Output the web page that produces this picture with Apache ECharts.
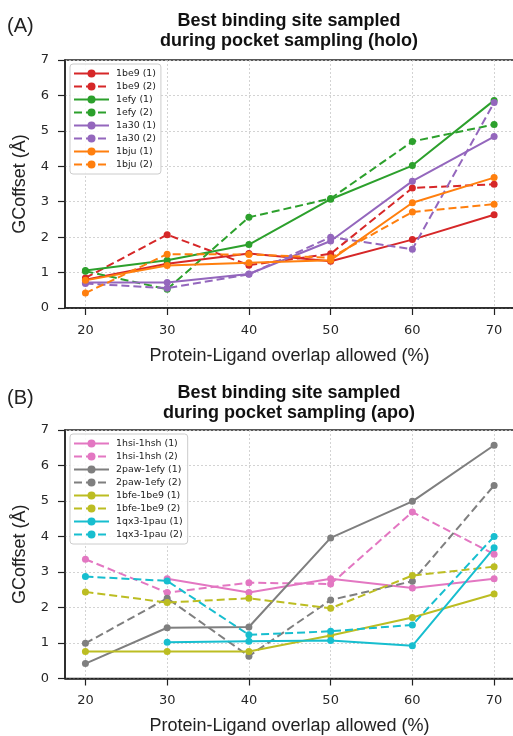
<!DOCTYPE html>
<html><head><meta charset="utf-8">
<script src="https://cdn.jsdelivr.net/npm/echarts@6/dist/echarts.min.js"></script>
<style>html,body{margin:0;padding:0;background:#fff}#c{width:513px;height:736px}</style>
</head><body><div id="c"></div>
<script>
// ---- data ----
const overlap = [20, 30, 40, 50, 60, 70];
const yTicks = [0, 1, 2, 3, 4, 5, 6, 7];

// Panel A (holo)
const namesA = ['1be9 (1)', '1be9 (2)', '1efy (1)', '1efy (2)', '1a30 (1)', '1a30 (2)', '1bju (1)', '1bju (2)'];
const be9_1 = [0.80, 1.25, 1.54, 1.32, 1.93, 2.63];
const be9_2 = [0.85, 2.07, 1.21, 1.53, 3.39, 3.49];
const efy_1 = [1.06, 1.35, 1.79, 3.07, 4.02, 5.86];
const efy_2 = [1.04, 0.53, 2.56, 3.09, 4.70, 5.18];
const a30_1 = [0.72, 0.72, 0.96, 1.89, 3.58, 4.84];
const a30_2 = [0.69, 0.56, 0.95, 2.00, 1.66, 5.80];
const bju_1 = [0.78, 1.20, 1.28, 1.35, 2.97, 3.68];
const bju_2 = [0.42, 1.52, 1.51, 1.42, 2.71, 2.93];

// Panel B (apo)
const namesB = ['1hsi-1hsh (1)', '1hsi-1hsh (2)', '2paw-1efy (1)', '2paw-1efy (2)', '1bfe-1be9 (1)', '1bfe-1be9 (2)', '1qx3-1pau (1)', '1qx3-1pau (2)'];
const hsi_1 = [null, 2.81, 2.42, 2.81, 2.55, 2.81];
const hsi_2 = [3.36, 2.42, 2.70, 2.66, 4.69, 3.50];
const paw_1 = [0.42, 1.43, 1.45, 3.96, 4.99, 6.57];
const paw_2 = [0.99, 2.26, 0.63, 2.21, 2.74, 5.44];
const bfe_1 = [0.76, 0.76, 0.76, 1.21, 1.72, 2.38];
const bfe_2 = [2.44, 2.14, 2.26, 1.98, 2.90, 3.15];
const qx3_1 = [null, 1.02, 1.05, 1.07, 0.92, 3.68];
const qx3_2 = [2.87, 2.75, 1.23, 1.33, 1.51, 4.00];

const valsA = [be9_1, be9_2, efy_1, efy_2, a30_1, a30_2, bju_1, bju_2];
const valsB = [hsi_1, hsi_2, paw_1, paw_2, bfe_1, bfe_2, qx3_1, qx3_2];
const colorsA = ['#d62728', '#d62728', '#2ca02c', '#2ca02c', '#9467bd', '#9467bd', '#ff7f0e', '#ff7f0e'];
const colorsB = ['#e377c2', '#e377c2', '#7f7f7f', '#7f7f7f', '#bcbd22', '#bcbd22', '#17becf', '#17becf'];

const titleA = 'Best binding site sampled\nduring pocket sampling (holo)';
const titleB = 'Best binding site sampled\nduring pocket sampling (apo)';
const xName = 'Protein-Ligand overlap allowed (%)';
const yName = 'GCoffset (Å)';

// ---- chart ----
const chart = echarts.init(document.getElementById('c'), null, {renderer: 'canvas'});
const sans = 'Liberation Sans, Arial, sans-serif';
const tickFont = 'DejaVu Sans';
const xMin = 17.5, xMax = 73.29;   // right spine falls just outside the picture

function mkX(gi) {
  return {
    type: 'value', gridIndex: gi, min: xMin, max: xMax,
    name: xName, nameLocation: 'middle', nameGap: 39,
    nameTextStyle: {fontFamily: sans, fontSize: 18, color: '#222', padding: [0, 7, 0, 0]},
    axisLine: {show: true, onZero: false, lineStyle: {color: '#222', width: 1.5}},
    axisTick: {show: true, inside: false, length: 7, lineStyle: {color: '#222', width: 1.2}, customValues: overlap},
    axisLabel: {margin: 16, fontFamily: tickFont, fontSize: 13, color: '#262626', customValues: overlap},
    splitLine: {show: true, lineStyle: {color: '#c8c8c8', type: [2, 2], width: 0.8}}
  };
}
function mkY(gi) {
  return {
    type: 'value', gridIndex: gi, min: 0, max: 7, interval: 1,
    name: yName, nameLocation: 'middle', nameGap: 36,
    nameTextStyle: {fontFamily: sans, fontSize: 18, color: '#222'},
    axisLine: {show: true, lineStyle: {color: '#222', width: 1.5}},
    axisTick: {show: true, inside: false, length: 7, lineStyle: {color: '#222', width: 1.2}},
    axisLabel: {margin: 16, fontFamily: tickFont, fontSize: 13, color: '#262626',
      formatter: v => (yTicks.indexOf(v) >= 0 ? String(v) : '')},
    splitLine: {show: true, lineStyle: {color: '#c8c8c8', type: [2, 2], width: 0.8}}
  };
}
function mkSeries(names, vals, colors, gi) {
  return names.map((n, k) => ({
    name: n, type: 'line', xAxisIndex: gi, yAxisIndex: gi,
    data: overlap.map((x, i) => [x, vals[k][i]]),
    connectNulls: false,
    symbol: 'circle', symbolSize: 7, showSymbol: true,
    itemStyle: {color: colors[k]},
    lineStyle: {color: colors[k], width: 2, type: k % 2 === 0 ? 'solid' : [8, 4]},
    emphasis: {disabled: true},
    animation: false
  }));
}
function mkLegend(names, top) {
  return {
    data: names, orient: 'vertical', left: 70, top: top,
    padding: [5, 5, 5, 3], itemGap: 4, itemWidth: 35, itemHeight: 10,
    backgroundColor: 'rgba(255,255,255,0.85)', borderColor: '#cccccc', borderWidth: 1, borderRadius: 3,
    textStyle: {fontFamily: tickFont, fontSize: 9.4, color: '#222', padding: [0, 0, 0, 2]},
    selectedMode: false
  };
}

chart.setOption({
  animation: false,
  backgroundColor: '#fff',
  title: [
    {text: titleA, left: 289, top: 11, textAlign: 'center', padding: 0,
     textStyle: {fontFamily: sans, fontWeight: 'bold', fontSize: 18, lineHeight: 20, color: '#111'}},
    {text: '(A)', left: 7, top: 16, padding: 0,
     textStyle: {fontFamily: sans, fontWeight: 'normal', fontSize: 20, color: '#222'}},
    {text: titleB, left: 289, top: 383, textAlign: 'center', padding: 0,
     textStyle: {fontFamily: sans, fontWeight: 'bold', fontSize: 18, lineHeight: 20, color: '#111'}},
    {text: '(B)', left: 7, top: 388, padding: 0,
     textStyle: {fontFamily: sans, fontWeight: 'normal', fontSize: 20, color: '#222'}}
  ],
  grid: [
    {left: 65, top: 60, width: 456, height: 248, show: true, borderColor: '#222', borderWidth: 1.5,
     backgroundColor: 'transparent', containLabel: false, outerBoundsMode: 'none'},
    {left: 65, top: 430, width: 456, height: 248.5, show: true, borderColor: '#222', borderWidth: 1.5,
     backgroundColor: 'transparent', containLabel: false, outerBoundsMode: 'none'}
  ],
  xAxis: [mkX(0), mkX(1)],
  yAxis: [mkY(0), mkY(1)],
  legend: [mkLegend(namesA, 64), mkLegend(namesB, 434)],
  series: mkSeries(namesA, valsA, colorsA, 0).concat(mkSeries(namesB, valsB, colorsB, 1))
});
</script>
</body></html>
